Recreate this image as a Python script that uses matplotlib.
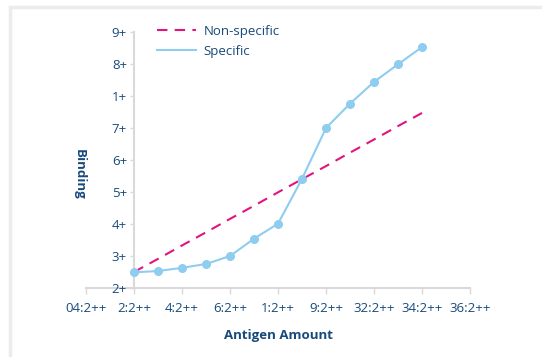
import matplotlib.pyplot as plt
from matplotlib.patches import Rectangle
from matplotlib.lines import Line2D

# Datos
x_labels = ['04:2++', '2:2++', '4:2++', '6:2++', '1:2++', '9:2++', '32:2++', '34:2++', '36:2++']
y_labels = ['2+', '3+', '4+', '5+', '6+', '7+', '1+', '8+', '9+']

x_pts = [1, 1.5, 2, 2.5, 3, 3.5, 4, 4.5, 5, 5.5, 6, 6.5, 7]
specific = [0.49, 0.53, 0.63, 0.75, 1.0, 1.54, 2.01, 3.41, 5.0, 5.76, 6.44, 6.99, 7.53]
non_specific = [0.5, 0.91, 1.33, 1.74, 2.16, 2.57, 2.99, 3.40, 3.81, 4.23, 4.64, 5.06, 5.47]

navy = '#174a7c'
grey = '#d9d9d9'
magenta = '#e0157f'
light_blue = '#8fcdf0'

plt.rcParams['font.family'] = ['Open Sans', 'DejaVu Sans']

fig = plt.figure(figsize=(5.42, 3.57), dpi=100)

# Marco gris claro alrededor
fig.patches.append(Rectangle((9.5 / 542, -0.1), 1.2, 1 - 6.5 / 357 + 0.1,
                             transform=fig.transFigure, fill=False,
                             edgecolor='#ececec', linewidth=2.5))

ax = fig.add_axes([86 / 542, 1 - 288 / 357, 384 / 542, 256 / 357])

ax.plot(x_pts, non_specific, color=magenta, linestyle=(0, (5, 3.5)),
        linewidth=1.5)
ax.plot(x_pts, specific, color=light_blue, linewidth=1.5, marker='o',
        markersize=5.5)

ax.set_xlim(0, 8)
ax.set_ylim(0, 8)
ax.set_xticks(range(len(x_labels)))
ax.set_xticklabels(x_labels)
ax.set_yticks(range(len(y_labels)))
ax.set_yticklabels(y_labels)

for s in ['top', 'right']:
    ax.spines[s].set_visible(False)
ax.spines['left'].set_position(('data', 1))
for s in ['left', 'bottom']:
    ax.spines[s].set_color(grey)
    ax.spines[s].set_linewidth(1.5)
    ax.spines[s].set_zorder(1)  # debajo de las etiquetas
ax.tick_params(axis='both', colors=grey, labelcolor=navy, labelsize=9.5,
               length=4, width=1)
ax.tick_params(axis='x', pad=6)
ax.tick_params(axis='y', pad=2, length=3)

fig.text(79 / 542, 1 - 174 / 357, 'Binding', rotation=270, color=navy,
         fontsize=9.5, fontweight='bold', ha='center', va='center')
fig.text(278 / 542, 1 - 336 / 357, 'Antigen Amount', color=navy,
         fontsize=9.5, fontweight='bold', ha='center', va='center')

handles = [Line2D([], [], color=magenta, linestyle=(0, (5, 3.5)), linewidth=1.5),
           Line2D([], [], color=light_blue, linewidth=1.5)]
leg = ax.legend(handles, ['Non-specific', 'Specific'], loc='upper left',
                bbox_to_anchor=(0.155, 1.075), frameon=False, fontsize=9.5,
                handlelength=2.9, handletextpad=0.6, labelspacing=0.55)
for t in leg.get_texts():
    t.set_color(navy)

fig.savefig('out.png', dpi=100)
